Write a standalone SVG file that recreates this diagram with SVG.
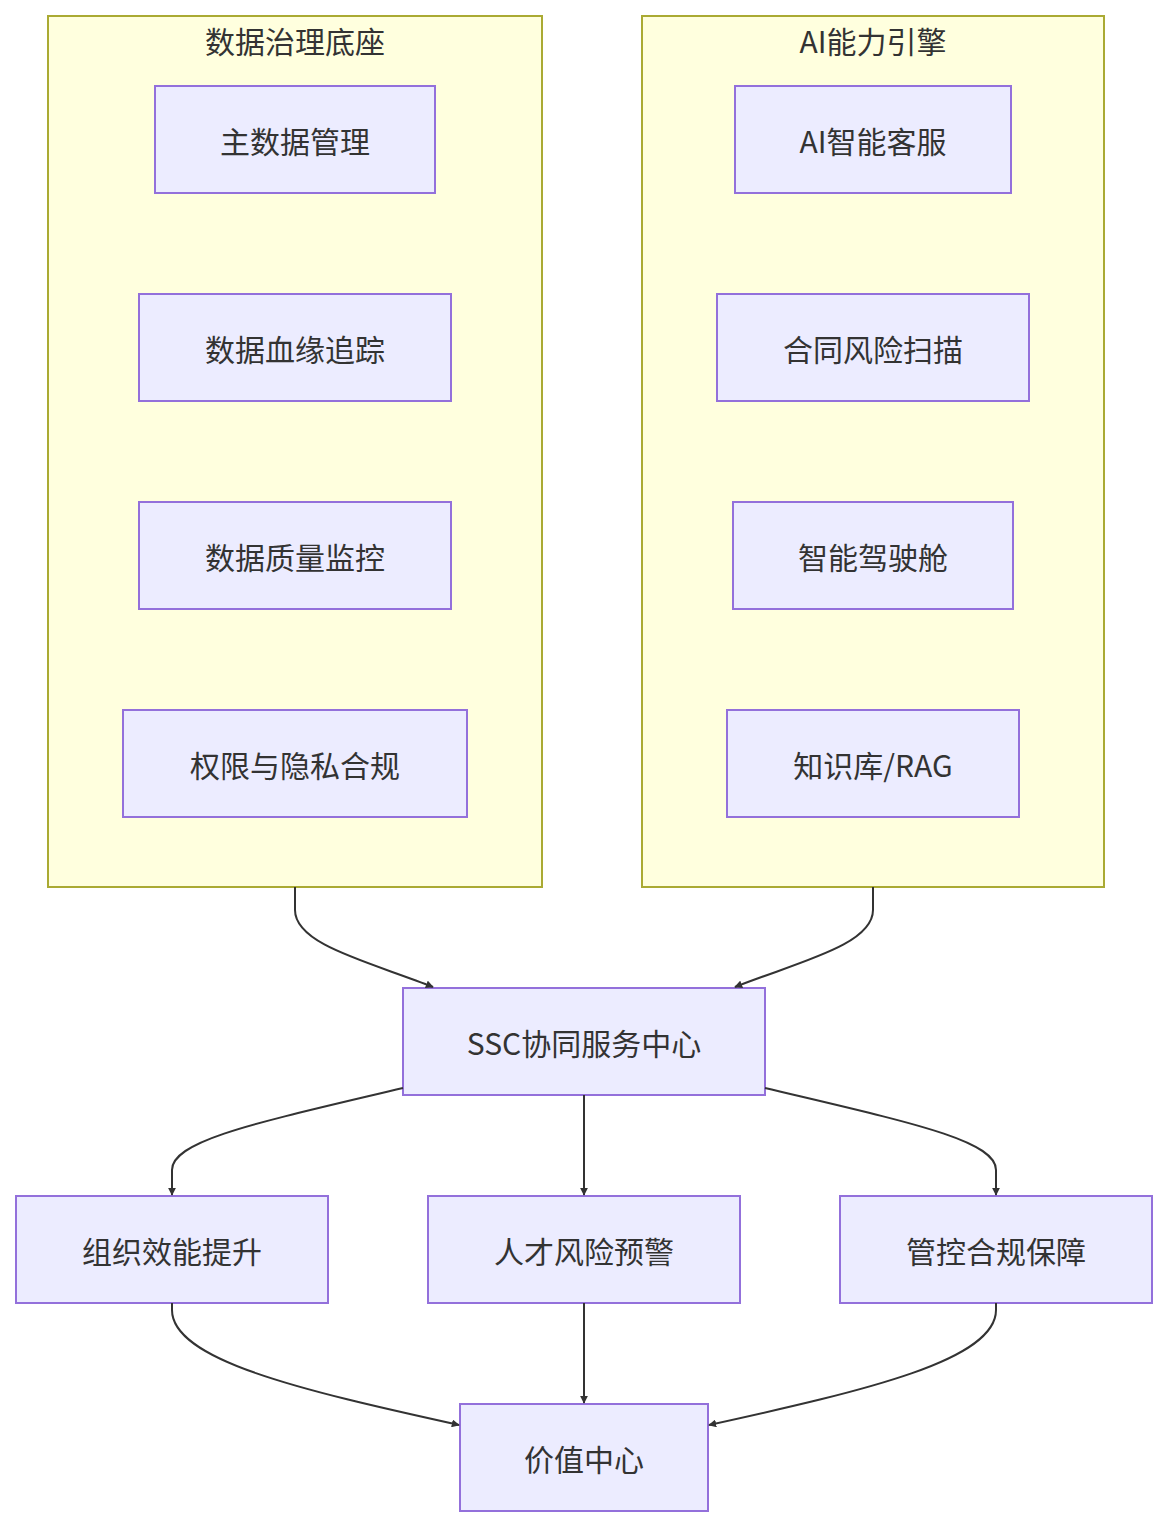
<svg xmlns="http://www.w3.org/2000/svg" width="1168" height="1528" viewBox="0 0 1168 1528">
<style>
.c{fill:#ffffde;stroke:#aaaa33;stroke-width:2}
.n{fill:#ececff;stroke:#9370db;stroke-width:2}
text{font-family:"Noto Sans CJK SC","Liberation Sans",sans-serif;font-size:30px;fill:#333;text-anchor:middle;dominant-baseline:central}
.e{fill:none;stroke:#333;stroke-width:2;marker-end:url(#a)}
</style>
<defs><marker id="a" viewBox="0 0 10 10" refX="9" refY="5" markerWidth="8" markerHeight="8" orient="auto" markerUnits="userSpaceOnUse"><path d="M0,0L10,5L0,10z" fill="#333"/></marker></defs>
<rect width="1168" height="1528" fill="#fff"/>
<g id="cluster1"><rect class="c" x="48" y="16" width="494" height="871"/><text x="295" y="40">数据治理底座</text></g>
<g id="cluster2"><rect class="c" x="642" y="16" width="462" height="871"/><text x="873" y="40">AI能力引擎</text></g>
<g id="n1"><rect class="n" x="155" y="86" width="280" height="107"/><text x="295" y="140">主数据管理</text></g>
<g id="n2"><rect class="n" x="139" y="294" width="312" height="107"/><text x="295" y="348">数据血缘追踪</text></g>
<g id="n3"><rect class="n" x="139" y="502" width="312" height="107"/><text x="295" y="556">数据质量监控</text></g>
<g id="n4"><rect class="n" x="123" y="710" width="344" height="107"/><text x="295" y="764">权限与隐私合规</text></g>
<g id="n5"><rect class="n" x="735" y="86" width="276" height="107"/><text x="873" y="140">AI智能客服</text></g>
<g id="n6"><rect class="n" x="717" y="294" width="312" height="107"/><text x="873" y="348">合同风险扫描</text></g>
<g id="n7"><rect class="n" x="733" y="502" width="280" height="107"/><text x="873" y="556">智能驾驶舱</text></g>
<g id="n8"><rect class="n" x="727" y="710" width="292" height="107"/><text x="873" y="764">知识库/RAG</text></g>
<g id="ssc"><rect class="n" x="403" y="988" width="362" height="107"/><text x="584" y="1042">SSC协同服务中心</text></g>
<g id="o1"><rect class="n" x="16" y="1196" width="312" height="107"/><text x="172" y="1250">组织效能提升</text></g>
<g id="o2"><rect class="n" x="428" y="1196" width="312" height="107"/><text x="584" y="1250">人才风险预警</text></g>
<g id="o3"><rect class="n" x="840" y="1196" width="312" height="107"/><text x="996" y="1250">管控合规保障</text></g>
<g id="v"><rect class="n" x="460" y="1404" width="248" height="107"/><text x="584" y="1458">价值中心</text></g>
<g id="edges">
<path class="e" d="M295,887V910C295,945 370,962 433,987"/>
<path class="e" d="M873,887V910C873,945 798,962 735,987"/>
<path class="e" d="M403,1088C260,1122 172,1140 172,1170V1195"/>
<path class="e" d="M584,1095V1195"/>
<path class="e" d="M765,1088C908,1122 996,1140 996,1170V1195"/>
<path class="e" d="M172,1303V1310C172,1360 300,1390 459,1425"/>
<path class="e" d="M584,1303V1403"/>
<path class="e" d="M996,1303V1310C996,1360 868,1390 709,1425"/>
</g>
</svg>
